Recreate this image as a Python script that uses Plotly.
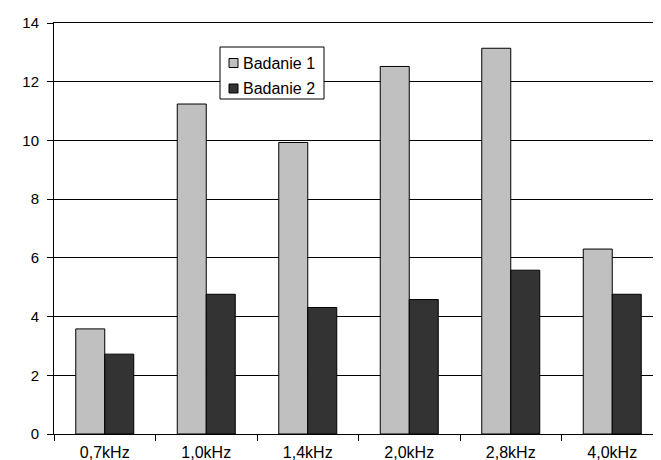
import plotly.graph_objects as go

categories = ["0,7kHz", "1,0kHz", "1,4kHz", "2,0kHz", "2,8kHz", "4,0kHz"]
badanie1 = [3.58, 11.24, 9.93, 12.52, 13.14, 6.30]
badanie2 = [2.72, 4.76, 4.31, 4.58, 5.58, 4.76]
series_names = ["Badanie 1", "Badanie 2"]
series_colors = ["#C0C0C0", "#333333"]
y_ticks = [0, 2, 4, 6, 8, 10, 12, 14]

W, H = 661, 460
ML, MR, MT, MB = 46, 6, 15, 34
PW, PH = W - ML - MR, H - MT - MB


def px_x(x):
    return (x - ML) / PW


def px_y(y):
    return (H - MB - y) / PH


fig = go.Figure()
for name, vals, col in zip(series_names, [badanie1, badanie2], series_colors):
    fig.add_trace(go.Bar(x=categories, y=vals, name=name, showlegend=False,
                         marker=dict(color=col, line=dict(color="#000000", width=1))))

# custom legend box (Excel-like)
shapes = [dict(type="rect", xref="paper", yref="paper",
               x0=px_x(212), x1=px_x(316), y0=px_y(91), y1=px_y(39),
               fillcolor="white", line=dict(color="#000000", width=1), layer="above")]
annotations = []
row_centers = [55, 80.5]
for name, col, yc in zip(series_names, series_colors, row_centers):
    shapes.append(dict(type="rect", xref="paper", yref="paper",
                       x0=px_x(221), x1=px_x(230), y0=px_y(yc + 4.5), y1=px_y(yc - 4.5),
                       fillcolor=col, line=dict(color="#000000", width=1), layer="above"))
    annotations.append(dict(text=name, xref="paper", yref="paper",
                            x=px_x(233), y=px_y(yc), xanchor="left", yanchor="middle",
                            showarrow=False, font=dict(size=16, color="#000000")))

fig.update_layout(
    width=W, height=H,
    margin=dict(l=ML, r=MR, t=MT, b=MB),
    paper_bgcolor="white", plot_bgcolor="white",
    barmode="group", bargap=0.4286, bargroupgap=0,
    font=dict(family="Liberation Sans, Arial, sans-serif", size=16, color="#000000"),
    showlegend=False,
    shapes=shapes, annotations=annotations,
    xaxis=dict(type="category", showline=True, linecolor="#000000", linewidth=1,
               ticks="outside", tickson="boundaries", ticklen=6, tickcolor="#000000",
               showgrid=False, mirror=True, tickfont=dict(size=16),
               automargin=False, ticklabelstandoff=4),
    yaxis=dict(range=[0, 14], tickvals=y_ticks, showline=True, linecolor="#000000", linewidth=1,
               ticks="outside", ticklen=6, tickcolor="#000000",
               showgrid=True, gridcolor="#000000", gridwidth=1, mirror=True,
               zeroline=False, tickfont=dict(size=15),
               automargin=False, ticklabelstandoff=5),
)

fig.write_html("out.html")
